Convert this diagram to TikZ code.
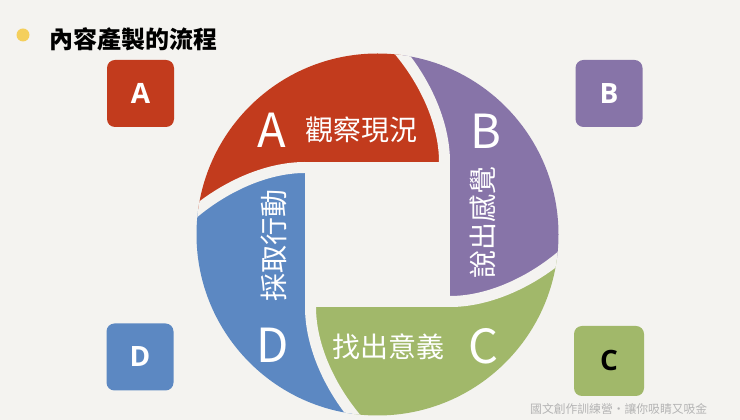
\documentclass[tikz,border=0pt]{standalone}
\usepackage{fontspec}
\newfontfamily\cjk{Noto Sans CJK TC}
\newfontfamily\boxfont{Open Sans}
\definecolor{bgc}{HTML}{F4F3F0}
\definecolor{cA}{HTML}{C23B1D}
\definecolor{cB}{HTML}{8774A8}
\definecolor{cC}{HTML}{A1B86A}
\definecolor{cD}{HTML}{5C88C2}
\definecolor{bul}{HTML}{F4CF5C}
\definecolor{wm}{HTML}{B4B4B4}
\tikzset{
  lbox/.style={rounded corners=8pt, minimum width=67pt, minimum height=67pt, inner sep=0pt, font=\boxfont\bfseries\fontsize{28}{28}\selectfont},
  bigletter/.style={text=white, inner sep=0pt, font=\cjk\fontsize{47}{47}\selectfont},
  phrase/.style={text=white, inner sep=0pt, font=\cjk\fontsize{28}{28}\selectfont},
  gapline/.style={draw=bgc, line width=11pt, line cap=butt}
}
\begin{document}
\begin{tikzpicture}[x=1pt,y=1pt]
\fill[bgc] (0,0) rectangle (740,420);
\useasboundingbox (0,0) rectangle (740,420);
% title
\fill[bul] (23,385) circle (6.5);
\node[anchor=west, inner sep=0pt, font=\cjk\bfseries\fontsize{24}{24}\selectfont] (title) at (49,381) {內容產製的流程};
% corner boxes
\node[lbox, fill=cA, text=white] (bA) at (140.5,326.5) {A};
\node[lbox, fill=cB, text=white] (bB) at (609,326.5) {B};
\node[lbox, fill=cC, text=black, minimum width=70pt, minimum height=70pt] (bC) at (609,59) {C};
\node[lbox, fill=cD, text=white] (bD) at (140,63) {D};
% pinwheel
\begin{scope}[shift={(377.5,185.5)}]
  \begin{scope}
    \clip (0,0) circle (181);
    \foreach \ang/\col in {0/cA,-90/cB,-180/cC,90/cD}{
      \fill[\col, rotate=\ang] (0,0) -- (67,72.5) .. controls (67,112) and (47,155) .. (18,188)
        -- (-300,300) -- (-188,18) .. controls (-155,47) and (-112,67) .. (-72.5,67) -- cycle;
    }
    \foreach \ang in {0,-90,-180,90}{
      \draw[gapline, rotate=\ang] (67,72.5) .. controls (67,112) and (47,155) .. (18,188);
    }
    \fill[bgc] (-72.5,-72.5) rectangle (72.5,72.5);
  \end{scope}
\end{scope}
% labels
\node[bigletter] (LA) at (272,290) {A};
\node[phrase] (PA) at (361,290) {觀察現況};
\node[bigletter] (LB) at (486,289) {B};
\node[phrase, rotate=90] (PB) at (483,197) {說出感覺};
\node[bigletter] (LC) at (483,74) {C};
\node[phrase] (PC) at (388,73) {找出意義};
\node[bigletter] (LD) at (273,75) {D};
\node[phrase, rotate=90] (PD) at (274,174) {採取行動};
% watermark
\node[anchor=west, inner sep=0pt, text=wm, font=\cjk\fontsize{11.8}{11.8}\selectfont] (wmk) at (530,11) {國文創作訓練營・讓你吸睛又吸金};
\end{tikzpicture}
\end{document}
